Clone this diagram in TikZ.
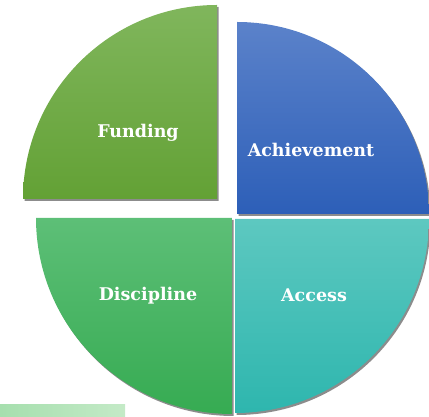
\documentclass[tikz,border=0pt]{standalone}
\usepackage{fontspec}
\setmainfont{DejaVu Serif}
\usetikzlibrary{shadows}

\definecolor{fundtop}{HTML}{80B65C}
\definecolor{fundbot}{HTML}{63A135}
\definecolor{achtop}{HTML}{5B82CA}
\definecolor{achbot}{HTML}{2D5FB8}
\definecolor{disctop}{HTML}{5DBF77}
\definecolor{discbot}{HTML}{36AB52}
\definecolor{acctop}{HTML}{5DC8C0}
\definecolor{accbot}{HTML}{2EB6AE}
\definecolor{stripl}{HTML}{A6DFAE}
\definecolor{stripr}{HTML}{C4EAC7}

\begin{document}
\begin{tikzpicture}
  [
    x=1pt, y=1pt,
    wedge/.style={drop shadow={shadow xshift=1.5pt, shadow yshift=-2pt, opacity=0.45, fill=black}},
    label node/.style={text=white, font=\fontsize{17.5}{20}\selectfont\bfseries, inner sep=0pt}
    ]
  \useasboundingbox (0,0) rectangle (429,417);

  % quarters
  \path[wedge, top color=fundtop, bottom color=fundbot]
    (217,218) -- ++(-194,0) arc[start angle=180, end angle=90, radius=194] -- cycle;
  \path[wedge, top color=achtop, bottom color=achbot]
    (237,203) -- ++(0,192) arc[start angle=90, end angle=0, radius=192] -- cycle;
  \path[wedge, top color=disctop, bottom color=discbot]
    (232,199) -- ++(-196,0) arc[start angle=180, end angle=270, radius=196] -- cycle;
  \path[wedge, top color=acctop, bottom color=accbot]
    (235,198) -- ++(194,0) arc[start angle=0, end angle=-90, radius=194] -- cycle;

  % strip at the bottom
  \shade[left color=stripl, right color=stripr] (0,0) rectangle (125,12);

  \node[label node] (fund) at (138,284) {Funding};
  \node[label node] (ach) at (311,267) {Achievement};
  \node[label node] (disc) at (148,121) {Discipline};
  \node[label node] (acc) at (314,122) {Access};

\end{tikzpicture}
\end{document}
